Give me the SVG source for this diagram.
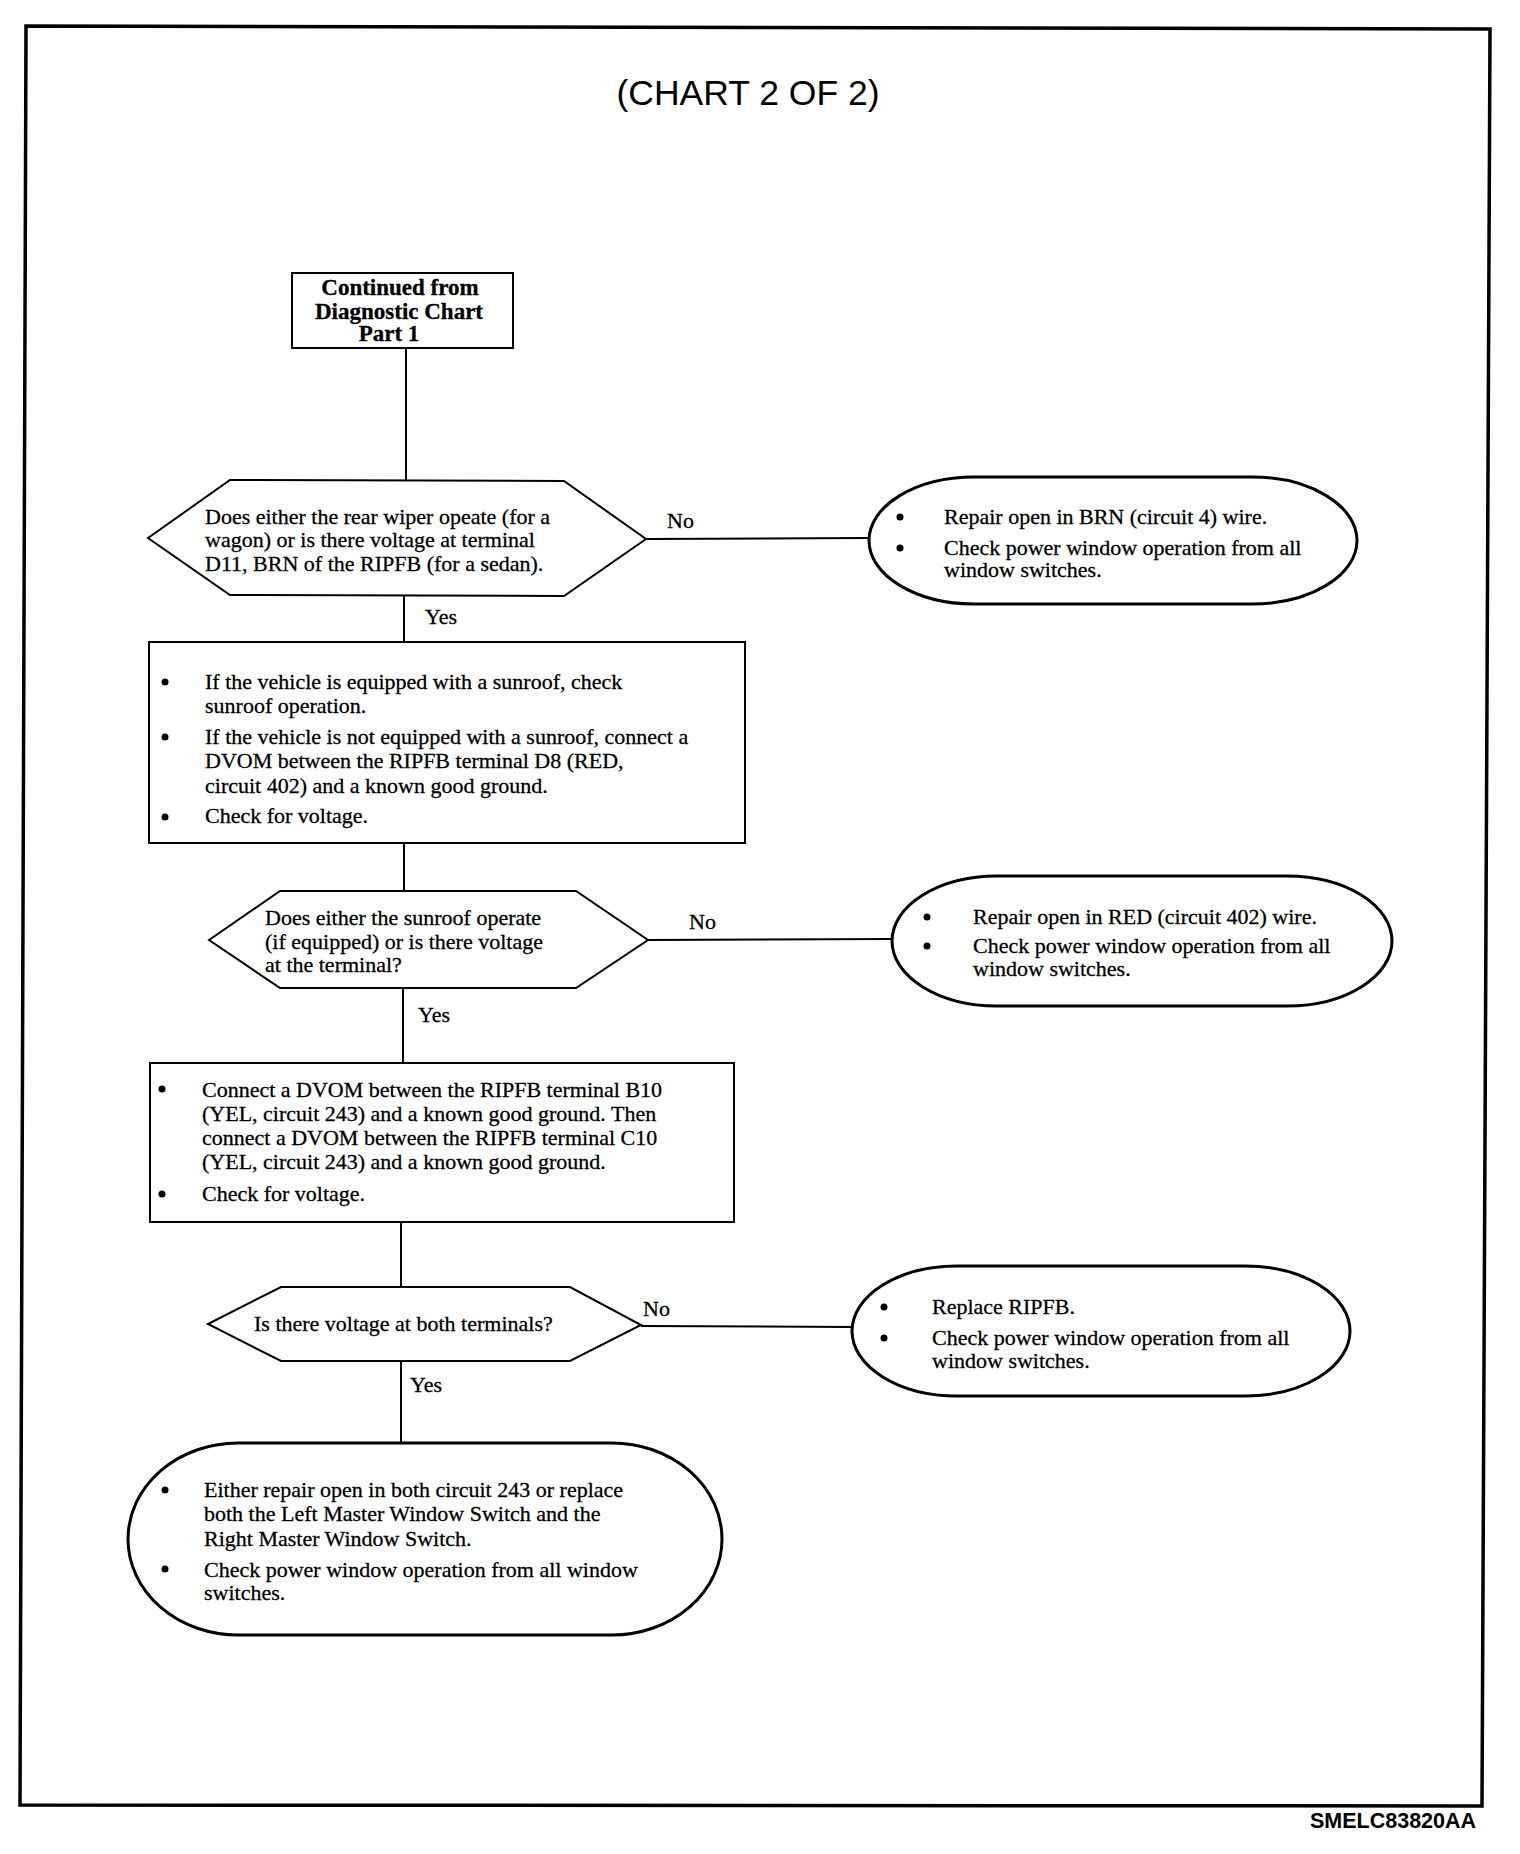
<svg xmlns="http://www.w3.org/2000/svg" width="1520" height="1854" viewBox="0 0 1520 1854">
<style>
.t{font-family:"Liberation Serif","Times New Roman",serif;font-size:22px;fill:#000;stroke:#000;stroke-width:0.3}
.sb{font-weight:bold;font-size:23px}
.box{fill:#fff;stroke:#000;stroke-width:2}
.dia{fill:#fff;stroke:#000;stroke-width:2}
.term{fill:#fff;stroke:#000;stroke-width:3}
.c{stroke:#000;stroke-width:2;fill:none}
.blt{fill:#000}
</style>
<rect width="1520" height="1854" fill="#fff"/>
<polygon points="26,26 1490,29 1482,1806 20,1805" fill="none" stroke="#000" stroke-width="3.5"/>
<text x="748" y="105" text-anchor="middle" font-family="Liberation Sans, Arial, sans-serif" font-size="35.5">(CHART 2 OF 2)</text>
<text x="1310" y="1828" font-family="Liberation Sans, Arial, sans-serif" font-size="21.5" font-weight="bold">SMELC83820AA</text>

<g id="connectors">
<line class="c" x1="406" y1="348" x2="406" y2="480"/>
<line class="c" x1="404" y1="595" x2="404" y2="642"/>
<line class="c" x1="646" y1="539" x2="869" y2="538"/>
<line class="c" x1="404" y1="843" x2="404" y2="891"/>
<line class="c" x1="648" y1="940" x2="892" y2="939"/>
<line class="c" x1="403" y1="988" x2="403" y2="1063"/>
<line class="c" x1="401" y1="1222" x2="401" y2="1287"/>
<line class="c" x1="641" y1="1326" x2="852" y2="1327"/>
<line class="c" x1="401" y1="1361" x2="401" y2="1443"/>
<text class="t" x="667" y="528">No</text>
<text class="t" x="425" y="624">Yes</text>
<text class="t" x="689" y="929">No</text>
<text class="t" x="418" y="1022">Yes</text>
<text class="t" x="643" y="1316">No</text>
<text class="t" x="410" y="1392">Yes</text>
</g>

<g id="start">
<rect class="box" x="292" y="273" width="221" height="75"/>
<text class="t sb" x="400" y="295" text-anchor="middle">Continued from</text>
<text class="t sb" x="399" y="319" text-anchor="middle">Diagnostic Chart</text>
<text class="t sb" x="389" y="341" text-anchor="middle">Part 1</text>
</g>

<g id="decision1">
<polygon class="dia" points="148,538 230,480 564,481 646,539 564,596 230,595"/>
<text class="t" x="205" y="524">Does either the rear wiper opeate (for a</text>
<text class="t" x="205" y="547">wagon) or is there voltage at terminal</text>
<text class="t" x="205" y="571">D11, BRN of the RIPFB (for a sedan).</text>
</g>

<g id="result1">
<rect class="term" x="869" y="477" width="488" height="127" rx="105" ry="63.5"/>
<circle class="blt" cx="900" cy="517" r="3.5"/>
<circle class="blt" cx="900" cy="548" r="3.5"/>
<text class="t" x="944" y="524">Repair open in BRN (circuit 4) wire.</text>
<text class="t" x="944" y="555">Check power window operation from all</text>
<text class="t" x="944" y="577">window switches.</text>
</g>

<g id="step2">
<rect class="box" x="149" y="642" width="596" height="201"/>
<circle class="blt" cx="165" cy="682" r="3.5"/>
<circle class="blt" cx="165" cy="737" r="3.5"/>
<circle class="blt" cx="165" cy="817" r="3.5"/>
<text class="t" x="205" y="689">If the vehicle is equipped with a sunroof, check</text>
<text class="t" x="205" y="713">sunroof operation.</text>
<text class="t" x="205" y="744">If the vehicle is not equipped with a sunroof, connect a</text>
<text class="t" x="205" y="768">DVOM between the RIPFB terminal D8 (RED,</text>
<text class="t" x="205" y="793">circuit 402) and a known good ground.</text>
<text class="t" x="205" y="823">Check for voltage.</text>
</g>

<g id="decision2">
<polygon class="dia" points="209,940 280,891 576,891 648,940 576,988 280,988"/>
<text class="t" x="265" y="925">Does either the sunroof operate</text>
<text class="t" x="265" y="949">(if equipped) or is there voltage</text>
<text class="t" x="265" y="972">at the terminal?</text>
</g>

<g id="result2">
<rect class="term" x="892" y="876" width="500" height="130" rx="105" ry="65"/>
<circle class="blt" cx="927" cy="917" r="3.5"/>
<circle class="blt" cx="927" cy="946" r="3.5"/>
<text class="t" x="973" y="924">Repair open in RED (circuit 402) wire.</text>
<text class="t" x="973" y="953">Check power window operation from all</text>
<text class="t" x="973" y="976">window switches.</text>
</g>

<g id="step3">
<rect class="box" x="150" y="1063" width="584" height="159"/>
<circle class="blt" cx="162" cy="1089" r="3.5"/>
<circle class="blt" cx="162" cy="1194" r="3.5"/>
<text class="t" x="202" y="1097">Connect a DVOM between the RIPFB terminal B10</text>
<text class="t" x="202" y="1121">(YEL, circuit 243) and a known good ground. Then</text>
<text class="t" x="202" y="1145">connect a DVOM between the RIPFB terminal C10</text>
<text class="t" x="202" y="1169">(YEL, circuit 243) and a known good ground.</text>
<text class="t" x="202" y="1201">Check for voltage.</text>
</g>

<g id="decision3">
<polygon class="dia" points="208,1324 281,1287 570,1287 641,1325 570,1361 281,1361"/>
<text class="t" x="254" y="1331">Is there voltage at both terminals?</text>
</g>

<g id="result3">
<rect class="term" x="852" y="1266" width="498" height="130" rx="105" ry="65"/>
<circle class="blt" cx="884" cy="1307" r="3.5"/>
<circle class="blt" cx="884" cy="1338" r="3.5"/>
<text class="t" x="932" y="1314">Replace RIPFB.</text>
<text class="t" x="932" y="1345">Check power window operation from all</text>
<text class="t" x="932" y="1368">window switches.</text>
</g>

<g id="result4">
<rect class="term" x="128" y="1443" width="594" height="192" rx="110" ry="96"/>
<circle class="blt" cx="165" cy="1490" r="3.5"/>
<circle class="blt" cx="165" cy="1569" r="3.5"/>
<text class="t" x="204" y="1497">Either repair open in both circuit 243 or replace</text>
<text class="t" x="204" y="1521">both the Left Master Window Switch and the</text>
<text class="t" x="204" y="1546">Right Master Window Switch.</text>
<text class="t" x="204" y="1577">Check power window operation from all window</text>
<text class="t" x="204" y="1600">switches.</text>
</g>
</svg>
